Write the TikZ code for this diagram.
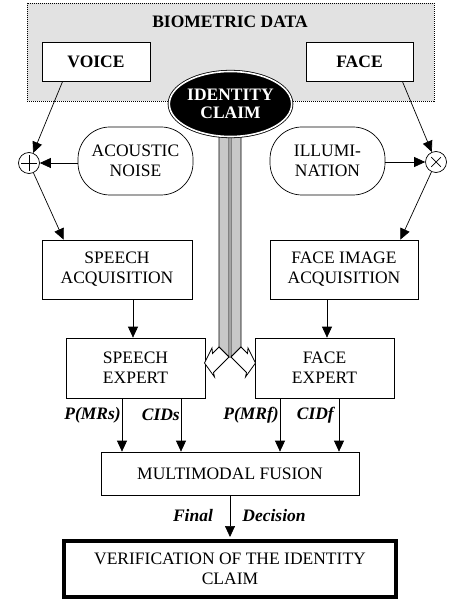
\documentclass[tikz,border=0pt]{standalone}
\usepackage{fontspec}
\setmainfont{Liberation Serif}
\usetikzlibrary{arrows.meta,shapes.geometric,calc}
\newcommand\dfont{\fontsize{17.5pt}{20pt}\selectfont}
\definecolor{biogray}{HTML}{E2E2E2}
\definecolor{pipegray}{HTML}{C8C8C8}
\begin{document}
\begin{tikzpicture}[x=1pt,y=-1pt,
  box/.style={draw, fill=white, line width=0.7pt, inner sep=0pt, align=center, font=\dfont},
  bbox/.style={box, font=\dfont\bfseries},
  stadium/.style={box, rounded corners=32pt},
  junc/.style={circle, draw, fill=white, line width=0.7pt, inner sep=0pt, minimum size=21pt},
  arr/.style={-{Triangle[length=11pt,width=10pt]}, line width=0.7pt},
  lab/.style={font=\dfont\bfseries\itshape, inner sep=0pt},
  pipe/.style={fill=pipegray, draw=black, line width=0.8pt, line join=miter},
  openhead/.style={fill=white, draw=black, line width=0.8pt, line join=miter}
]
\useasboundingbox (0,0) rectangle (449,601);

% biometric data group
\node[draw, fill=biogray, dash pattern=on 1pt off 1pt, line width=0.6pt,
      minimum width=407pt, minimum height=98pt, inner sep=0pt] (bio) at (230.5,52) {};
\node[font=\dfont\bfseries, inner sep=0pt] (biotitle) at (230,22) {BIOMETRIC DATA};
\node[bbox, minimum width=108pt, minimum height=39pt] (voice) at (96,61.5) {VOICE};
\node[bbox, minimum width=107pt, minimum height=39pt] (face) at (359.5,61.5) {FACE};

% identity claim pipes (gray bars)
\draw[pipe] (219,120) -- (219,347) -- (229,357) -- (229,120) -- cycle;
\draw[pipe] (241,120) -- (241,347) -- (231,357) -- (231,120) -- cycle;

% identity claim
\node[ellipse, draw=black, double=white, double distance=1.6pt, fill=black,
      line width=0.8pt, inner sep=0pt, minimum width=117pt, minimum height=65pt,
      text=white, align=center, font=\fontsize{17.5pt}{18.5pt}\selectfont\bfseries]
      (ident) at (230.5,104) {IDENTITY\\CLAIM};

% noise sources and junctions
\node[stadium, minimum width=115pt, minimum height=68pt] (noise) at (135.5,161) {ACOUSTIC\\NOISE};
\node[stadium, minimum width=115pt, minimum height=68pt] (illum) at (327.5,161) {ILLUMI-\\NATION};
\node[junc] (plus) at (29,163) {};
\node[junc] (times) at (436,162) {};
\draw[line width=0.7pt] ($(plus.north)!0.15!(plus.south)$) -- ($(plus.north)!0.85!(plus.south)$)
                        ($(plus.west)!0.15!(plus.east)$) -- ($(plus.west)!0.85!(plus.east)$);
\draw[line width=0.7pt] ($(times.center)!0.62!(times.north west)$) -- ($(times.center)!0.62!(times.south east)$)
                        ($(times.center)!0.62!(times.north east)$) -- ($(times.center)!0.62!(times.south west)$);

% acquisition and experts
\node[box, minimum width=150pt, minimum height=59pt] (sacq) at (117,269.5) {SPEECH\\ACQUISITION};
\node[box, minimum width=148pt, minimum height=59pt] (facq) at (344,269.5) {FACE IMAGE\\ACQUISITION};
\node[box, minimum width=139pt, minimum height=60pt] (sexp) at (135.5,368) {SPEECH\\EXPERT};
\node[box, minimum width=139pt, minimum height=60pt] (fexp) at (324.5,368) {FACE\\EXPERT};
\node[box, minimum width=258pt, minimum height=43pt] (fusion) at (230,473.5) {MULTIMODAL FUSION};
\node[box, line width=4pt, minimum width=332pt, minimum height=56pt] (verif) at (230,569)
     {VERIFICATION OF THE IDENTITY\\CLAIM};

% open arrow heads of the identity claim pipes
\draw[openhead] (219,347) -- (212.5,353.5) -- (212,348) -- (204.5,363) -- (214.5,377)
                -- (213.5,372.5) -- (229,357) -- cycle;
\draw[openhead] (241,347) -- (247.5,353.5) -- (248,348) -- (255.5,363) -- (245.5,377)
                -- (246.5,372.5) -- (231,357) -- cycle;

% connectors
\draw[arr] ([xshift=21pt]voice.south west) -- (plus);
\draw[arr] (noise.west |- plus) -- (plus);
\draw[arr] ([xshift=-11pt]face.south east) -- (times);
\draw[arr] (illum.east |- times) -- (times);
\draw[arr] (plus) -- ([xshift=22pt]sacq.north west);
\draw[arr] (times) -- ([xshift=-18pt]facq.north east);
\draw[arr] ([xshift=16pt]sacq.south) -- ([xshift=16pt]sacq.south |- sexp.north);
\draw[arr] ([xshift=-17pt]facq.south) -- ([xshift=-17pt]facq.south |- fexp.north);

\coordinate (a1) at (122,0);
\coordinate (a2) at (181,0);
\coordinate (a3) at (280,0);
\coordinate (a4) at (339,0);
\draw[arr] (sexp.south -| a1) -- (fusion.north -| a1);
\draw[arr] (sexp.south -| a2) -- (fusion.north -| a2);
\draw[arr] (fexp.south -| a3) -- (fusion.north -| a3);
\draw[arr] (fexp.south -| a4) -- (fusion.north -| a4);
\node[lab, anchor=east] (l1) at (121,415) {\textit{P}(\textit{MRs})};
\node[lab, anchor=east] (l2) at (180,415) {CIDs};
\node[lab, anchor=east] (l3) at (279,415) {\textit{P}(\textit{MRf})};
\node[lab, anchor=east] (l4) at (334,415) {CIDf};

\draw[arr] (fusion.south) -- ([yshift=2pt]verif.north);
\node[lab] (fin) at (193,516) {Final};
\node[lab] (dec) at (274,516) {Decision};
\end{tikzpicture}
\end{document}
